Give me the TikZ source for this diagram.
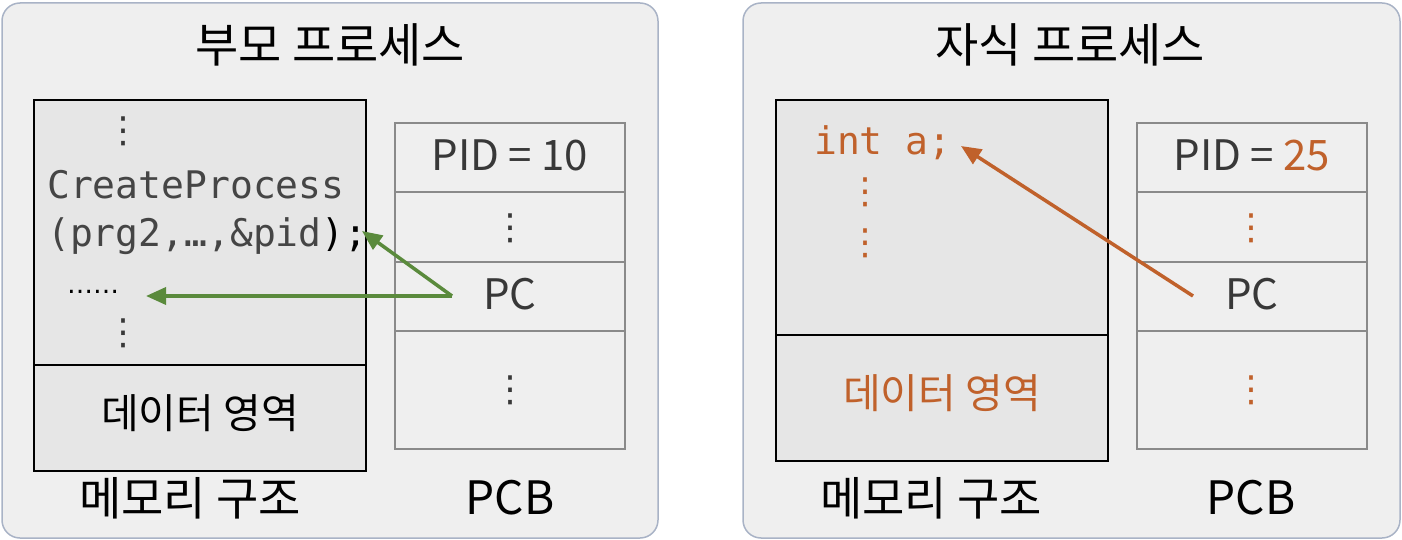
\documentclass[tikz,border=0pt]{standalone}
\usepackage{fontspec}
\setmainfont{Noto Sans CJK KR}
\newfontfamily\codefont{DejaVu Sans Mono}
\newfontfamily\symfont{DejaVu Sans}
\usetikzlibrary{arrows.meta}
\definecolor{panelfill}{HTML}{EFEFEF}
\definecolor{panelline}{HTML}{A9B3C6}
\definecolor{memfill}{HTML}{E6E6E6}
\definecolor{pcbline}{HTML}{8A8A8A}
\definecolor{txt}{HTML}{383838}
\definecolor{codetxt}{HTML}{454545}
\definecolor{orng}{HTML}{C0612B}
\definecolor{grn}{HTML}{5A8A3C}
\tikzset{
  panel/.style={draw=panelline, fill=panelfill, line width=1.5pt, rounded corners=18pt},
  membox/.style={draw=black, fill=memfill, line width=2pt},
  pcbcell/.style={draw=pcbline, fill=panelfill, line width=2.8pt},
  title/.style={font=\fontsize{47}{50}\selectfont, text=black},
  label/.style={font=\fontsize{46}{50}\selectfont, text=black},
  celltxt/.style={font=\fontsize{42}{45}\selectfont, text=txt},
  areatxt/.style={font=\fontsize{41}{44}\selectfont},
  code/.style={font=\codefont\fontsize{38}{40}\selectfont, text=codetxt, anchor=west, inner sep=0pt},
  vdots/.style={font=\symfont\fontsize{36}{38}\selectfont, inner sep=0pt},
  ptr/.style={line width=3.5pt, -{Triangle[length=20pt,width=17pt]}},
}
\begin{document}
\begin{tikzpicture}[x=1pt,y=-1pt]
\useasboundingbox (0,0) rectangle (1402,540);
% panels
\draw[panel] (2,3) rectangle (658,538);
\draw[panel] (743,3) rectangle (1400,538);
% ---------- left: parent process ----------
\node[title] (t1) at (330,45) {부모 프로세스};
\draw[membox] (34,100) rectangle (366,365);
\draw[membox] (34,365) rectangle (366,471);
\node[vdots, text=txt] (l1) at (123,131) {⋮};
\node[code] (l2) at (47,185) {CreateProcess};
\node[code] (l3) at (47,236) {(prg2,…,\&pid\textcolor{black}{);}};
\node[font=\symfont\fontsize{26}{28}\selectfont, text=black, inner sep=0pt] (l4) at (93,292) {……};
\node[vdots, text=txt] (l5) at (123,333) {⋮};
\node[areatxt, text=black] (l6) at (200,413) {데이터 영역};
\draw[pcbcell] (395,123) rectangle (625,192);
\draw[pcbcell] (395,192) rectangle (625,262);
\draw[pcbcell] (395,262) rectangle (625,331);
\draw[pcbcell] (395,331) rectangle (625,449);
\node[celltxt] (p1) at (510,155) {PID = 10};
\node[vdots, text=txt] (p2) at (510,228) {⋮};
\node[celltxt] (p3) at (510,294) {PC};
\node[vdots, text=txt] (p4) at (510,390) {⋮};
\node[label] (m1) at (190,498) {메모리 구조};
\node[label] (c1) at (510,498) {PCB};
\coordinate (g0) at (452,296);
\coordinate (g1) at (362,231);
\coordinate (g2) at (146,296);
\draw[ptr, grn] (g0) -- (g1);
\draw[ptr, grn] (g0) -- (g2);
% ---------- right: child process ----------
\node[title] (t2) at (1070,45) {자식 프로세스};
\draw[membox] (776,100) rectangle (1108,335);
\draw[membox] (776,335) rectangle (1108,461);
\node[code, text=orng] (r1) at (814,143) {int a;};
\node[vdots, text=orng] (r2) at (865,192) {⋮};
\node[vdots, text=orng] (r3) at (865,243) {⋮};
\node[areatxt, text=orng] (r4) at (942,393) {데이터 영역};
\draw[pcbcell] (1137,123) rectangle (1367,192);
\draw[pcbcell] (1137,192) rectangle (1367,262);
\draw[pcbcell] (1137,262) rectangle (1367,331);
\draw[pcbcell] (1137,331) rectangle (1367,449);
\node[celltxt] (q1) at (1252,155) {PID = \textcolor{orng}{25}};
\node[vdots, text=orng] (q2) at (1251,228) {⋮};
\node[celltxt] (q3) at (1252,294) {PC};
\node[vdots, text=orng] (q4) at (1251,390) {⋮};
\node[label] (m2) at (931,498) {메모리 구조};
\node[label] (c2) at (1251,498) {PCB};
\coordinate (o0) at (1193,296);
\coordinate (o1) at (961,146);
\draw[ptr, orng] (o0) -- (o1);
\end{tikzpicture}
\end{document}
